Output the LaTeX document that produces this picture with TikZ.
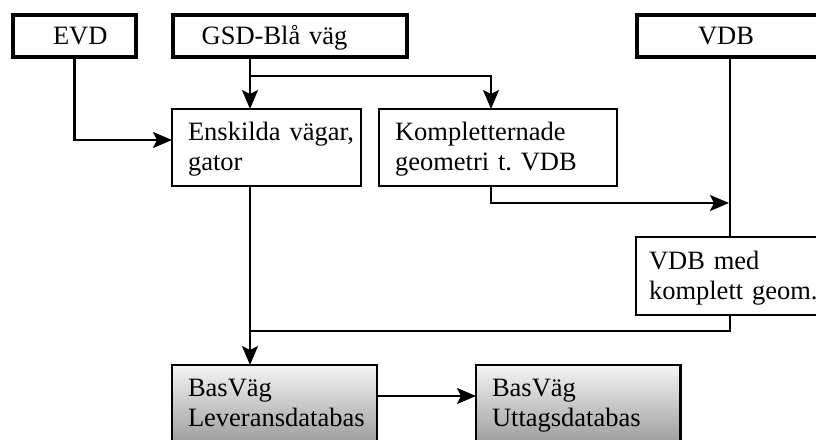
\documentclass[tikz,border=0pt]{standalone}
\usepackage{fontspec}
\setmainfont{Liberation Serif}
\usetikzlibrary{arrows.meta,calc}
\begin{document}
\begin{tikzpicture}[x=1pt,y=-1pt,
  base/.style={draw=black, anchor=north west, outer sep=0pt, align=left,
    text height=20pt, inner ysep=0pt,
    font=\fontsize{26.5}{30}\selectfont,
    execute at begin node={\hyphenpenalty=10000\relax}},
  thickbox/.style={base, line width=4.5pt, minimum height=42pt, text depth=4pt},
  thinbox/.style={base, line width=2.2pt, inner xsep=16pt, minimum height=77pt, text depth=34pt},
  shadebox/.style={thinbox, top color=black!4, bottom color=black!38},
  conn/.style={line width=2.2pt},
  arr/.style={conn, -{Stealth[length=19pt,width=16pt,inset=4pt]}}]
\useasboundingbox (0,0) rectangle (816,439);
% source boxes
\node[thickbox, inner xsep=40pt, text width=43pt] (evd) at (13,15) {EVD};
\node[thickbox, inner xsep=28.7pt, text width=176.6pt] (gsd) at (173,15) {GSD-Blå väg};
\node[thickbox, inner xsep=61pt, text width=78pt] (vdb) at (637,15) {VDB};
% processing boxes
\node[thinbox, text width=157pt] (ens) at (172,109) {Enskilda~vägar,\\gator};
\node[thinbox, text width=206pt] (komp) at (379,109) {Kompletternade\\geometri~t.~VDB};
\node[thinbox, inner xsep=13pt, text width=174pt, minimum height=78pt] (vdbmed) at (636,237) {VDB~med\\komplett~geom.};
% databases
\node[shadebox, text width=173pt] (lev) at (172,365) {BasVäg\\Leveransdatabas};
\node[shadebox, text width=172.5pt] (utt) at (476,365) {BasVäg\\Uttagsdatabas};
% routing coordinates
\coordinate (xa) at (250,0);
\coordinate (br) at (491,76);
\coordinate (xv) at (730,0);
\coordinate (ye) at (0,140);
\coordinate (yk) at (0,203);
\coordinate (yj) at (0,331);
\coordinate (yl) at (0,396);
% connectors
\draw[arr] (evd.south) |- (ens.west |- ye);
\draw[arr] (gsd.south -| xa) -- (ens.north -| xa);
\draw[arr] (xa |- br) -| (komp.north -| br);
\draw[arr, shorten >=1pt] (komp.south -| br) |- (xv |- yk);
\draw[conn] (vdb.south -| xv) -- (vdbmed.north -| xv);
\draw[arr] (ens.south -| xa) -- (lev.north -| xa);
\draw[conn] (vdbmed.south -| xv) |- (xa |- yj);
\draw[arr] (lev.east |- yl) -- (utt.west |- yl);
\end{tikzpicture}
\end{document}
